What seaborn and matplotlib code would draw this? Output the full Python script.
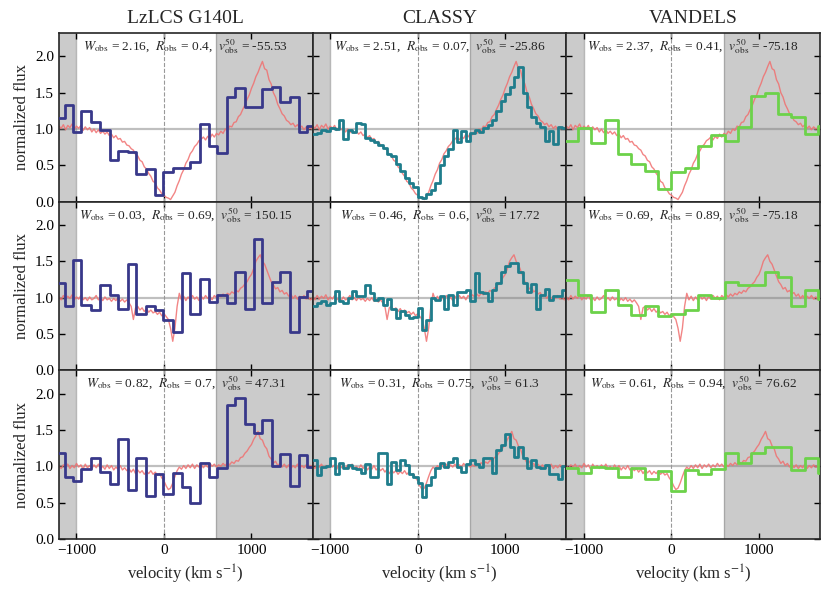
import matplotlib
matplotlib.use("Agg")
import matplotlib.pyplot as plt
import seaborn as sns

# high-resolution comparison spectrum (red), velocity in km/s
vel_hr = [-1200, -1175, -1150, -1125, -1100, -1075, -1050, -1025, -1000, -975,
          -950, -925, -900, -875, -850, -825, -800, -775, -750, -725,
          -700, -675, -650, -625, -600, -575, -550, -525, -500, -475,
          -450, -425, -400, -375, -350, -325, -300, -275, -250, -225,
          -200, -175, -150, -125, -100, -75, -50, -25, 0, 25,
          50, 75, 100, 125, 150, 175, 200, 225, 250, 275,
          300, 325, 350, 375, 400, 425, 450, 475, 500, 525,
          550, 575, 600, 625, 650, 675, 700, 725, 750, 775,
          800, 825, 850, 875, 900, 925, 950, 975, 1000, 1025,
          1050, 1075, 1100, 1125, 1150, 1175, 1200, 1225, 1250, 1275,
          1300, 1325, 1350, 1375, 1400, 1425, 1450, 1475, 1500, 1525,
          1550, 1575, 1600, 1625, 1650, 1675, 1700]

hr_row1 = [1.04, 1.01, 1.06, 0.99, 1.05, 1.02, 1.07, 1.00, 1.04, 1.01,
           1.05, 0.98, 1.03, 0.99, 1.02, 0.96, 1.00, 0.95, 0.99, 0.94,
           0.97, 0.93, 0.96, 0.91, 0.93, 0.88, 0.91, 0.86, 0.87, 0.82,
           0.83, 0.78, 0.77, 0.73, 0.71, 0.65, 0.63, 0.57, 0.55, 0.48,
           0.45, 0.39, 0.35, 0.28, 0.26, 0.19, 0.16, 0.11, 0.09, 0.06,
           0.05, 0.03, 0.08, 0.13, 0.22, 0.29, 0.38, 0.44, 0.53, 0.58,
           0.66, 0.70, 0.76, 0.79, 0.84, 0.86, 0.89, 0.85, 0.90, 0.87,
           0.93, 0.89, 0.94, 0.92, 0.97, 0.94, 1.00, 0.98, 1.04, 1.03,
           1.09, 1.10, 1.17, 1.20, 1.27, 1.33, 1.41, 1.47, 1.56, 1.63,
           1.72, 1.78, 1.86, 1.93, 1.83, 1.81, 1.68, 1.62, 1.50, 1.44,
           1.34, 1.28, 1.21, 1.18, 1.12, 1.10, 1.06, 1.08, 1.03, 1.06,
           1.01, 1.04, 0.99, 1.03, 1.00, 1.02, 0.99]

hr_row2 = [1.01, 0.97, 1.03, 0.98, 1.02, 0.99, 1.04, 0.97, 1.01, 0.98,
           1.03, 0.97, 1.00, 0.96, 1.01, 0.97, 0.99, 1.03, 0.97, 1.00,
           0.96, 1.01, 0.97, 0.99, 0.95, 0.99, 0.96, 1.00, 0.95, 0.98,
           0.94, 0.97, 0.93, 0.88, 0.70, 0.86, 0.88, 0.83, 0.86, 0.81,
           0.85, 0.80, 0.83, 0.79, 0.81, 0.77, 0.80, 0.75, 0.78, 0.74,
           0.70, 0.58, 0.40, 0.58, 0.88, 1.06, 0.97, 1.02, 0.96, 1.01,
           0.97, 1.03, 0.98, 1.01, 0.96, 1.02, 0.98, 1.03, 0.99, 1.02,
           0.97, 1.03, 1.00, 1.04, 1.01, 1.05, 1.02, 1.06, 1.04, 1.08,
           1.06, 1.10, 1.08, 1.13, 1.15, 1.19, 1.22, 1.28, 1.32, 1.40,
           1.50, 1.55, 1.59, 1.50, 1.46, 1.38, 1.30, 1.22, 1.18, 1.12,
           1.14, 1.08, 1.10, 1.05, 1.07, 1.02, 1.05, 0.99, 1.03, 0.98,
           1.02, 0.99, 1.03, 0.98, 1.01, 0.97, 1.00]

hr_row3 = [1.00, 0.97, 1.02, 0.99, 1.03, 0.97, 1.01, 0.98, 1.04, 0.99,
           1.02, 0.96, 1.03, 0.98, 1.01, 0.97, 1.02, 0.98, 1.03, 0.97,
           1.00, 0.96, 1.02, 0.97, 1.01, 0.95, 0.99, 0.96, 1.01, 0.95,
           0.98, 0.94, 0.97, 0.92, 0.96, 0.90, 0.95, 0.91, 0.94, 0.89,
           0.93, 0.90, 0.94, 0.89, 0.92, 0.88, 0.90, 0.84, 0.80, 0.73,
           0.68, 0.70, 0.77, 0.86, 0.94, 0.99, 0.96, 1.01, 0.97, 1.02,
           0.98, 1.03, 0.97, 1.02, 0.99, 1.03, 0.98, 1.02, 0.99, 1.04,
           1.00, 1.03, 0.99, 1.02, 1.00, 1.04, 1.01, 1.05, 1.02, 1.06,
           1.04, 1.08, 1.07, 1.12, 1.13, 1.18, 1.21, 1.26, 1.30, 1.37,
           1.42, 1.48, 1.38, 1.36, 1.28, 1.24, 1.14, 1.10, 1.04, 1.07,
           1.01, 1.04, 0.99, 1.03, 0.98, 1.02, 0.97, 1.01, 0.98, 1.03,
           0.97, 1.01, 0.98, 1.02, 0.99, 1.01, 0.98]

# LzLCS G140L binned spectra (bin edges in km/s)
lzlcs_edges = [-1239, -1136, -1040, -945, -831, -736, -621, -526, -412, -317,
               -202, -107, -12, 103, 205, 301, 415, 510, 605, 720,
               815, 929, 1024, 1120, 1234, 1329, 1436, 1539, 1634, 1737]
lzlcs_row1 = [1.15, 1.33, 0.96, 1.25, 1.10, 0.98, 0.57, 0.70, 0.68, 0.38,
              0.45, 0.09, 0.41, 0.47, 0.47, 0.54, 1.07, 0.77, 0.67, 1.44,
              1.57, 1.31, 1.31, 1.55, 1.58, 1.37, 1.44, 0.96, 1.04]
lzlcs_row2 = [1.20, 0.88, 1.52, 0.90, 0.83, 1.18, 1.03, 0.84, 1.47, 0.78,
              0.89, 0.83, 0.69, 0.53, 1.34, 0.78, 1.26, 0.94, 1.03, 0.92,
              1.35, 0.85, 1.81, 0.92, 1.22, 1.35, 0.53, 1.01, 1.09]
lzlcs_row3 = [1.18, 0.85, 0.80, 0.96, 1.12, 0.92, 0.76, 1.37, 0.68, 1.12,
              0.59, 0.89, 0.62, 0.91, 0.71, 0.50, 1.04, 0.85, 0.98, 1.85,
              1.94, 1.58, 1.46, 1.64, 1.01, 1.17, 0.73, 1.15, 0.99]

# CLASSY binned spectra
classy_edges = [-1200, -1150, -1100, -1050, -1000, -950, -900, -850, -800, -750,
                -700, -650, -600, -550, -500, -450, -400, -350, -300, -250,
                -200, -150, -100, -50, 0, 50, 100, 150, 200, 250,
                300, 350, 400, 450, 500, 550, 600, 650, 700, 750,
                800, 850, 900, 950, 1000, 1050, 1100, 1150, 1200, 1250,
                1300, 1350, 1400, 1450, 1500, 1550, 1600, 1650, 1700]
classy_row1 = [0.93, 0.95, 0.98, 0.97, 1.02, 1.00, 1.12, 0.86, 0.98, 0.96,
               1.08, 1.07, 0.87, 0.85, 0.82, 0.78, 0.74, 0.66, 0.63, 0.52,
               0.42, 0.33, 0.26, 0.20, 0.07, 0.05, 0.10, 0.16, 0.26, 0.50,
               0.63, 0.72, 0.98, 0.82, 0.97, 0.83, 0.95, 0.98, 0.96, 1.02,
               1.05, 1.12, 1.25, 1.38, 1.48, 1.58, 1.72, 1.85, 1.49, 1.31,
               1.17, 1.08, 1.03, 0.83, 0.97, 0.80, 1.03, 1.02]
classy_row2 = [0.88, 0.93, 0.95, 0.90, 0.93, 1.09, 0.95, 0.92, 0.99, 1.09,
               1.02, 1.02, 1.18, 1.06, 0.97, 0.99, 0.90, 0.98, 0.85, 0.72,
               0.81, 0.76, 0.72, 0.74, 0.86, 0.56, 0.69, 0.99, 0.97, 1.02,
               0.85, 1.04, 0.90, 1.08, 1.08, 1.11, 0.95, 1.34, 1.08, 1.06,
               0.95, 1.11, 1.20, 1.35, 1.43, 1.48, 1.48, 1.36, 1.20, 1.08,
               1.19, 0.85, 1.04, 1.12, 0.97, 1.02, 1.02, 1.11]
classy_row3 = [1.08, 0.88, 0.99, 1.00, 1.11, 0.90, 1.05, 0.98, 1.02, 0.98,
               0.96, 0.91, 1.03, 0.85, 0.85, 1.18, 1.18, 0.76, 1.06, 0.95,
               1.09, 1.02, 0.90, 0.85, 0.77, 0.58, 0.74, 0.85, 0.97, 1.05,
               0.99, 1.06, 1.12, 0.99, 0.92, 1.03, 1.09, 1.03, 0.99, 1.11,
               1.11, 0.91, 1.22, 1.29, 1.45, 1.27, 1.13, 1.26, 1.11, 0.98,
               1.09, 0.99, 0.97, 1.02, 0.90, 0.90, 0.83, 1.00]

# VANDELS binned spectra
vandels_edges = [-1219, -1067, -914, -762, -610, -457, -305, -152, 0, 152,
                 305, 457, 610, 762, 914, 1067, 1219, 1372, 1524, 1676, 1829]
vandels_row1 = [0.84, 1.01, 0.81, 1.12, 0.65, 0.52, 0.42, 0.175, 0.41, 0.47,
                0.76, 0.92, 0.83, 1.03, 1.46, 1.50, 1.21, 1.16, 0.93, 1.04]
vandels_row2 = [1.25, 1.03, 0.80, 1.10, 0.90, 0.76, 0.88, 0.75, 0.77, 0.83,
                1.03, 1.00, 1.21, 1.18, 1.17, 1.35, 1.29, 0.88, 1.11, 0.98]
vandels_row3 = [0.97, 0.91, 0.99, 0.97, 0.85, 0.97, 0.83, 0.94, 0.66, 0.95,
                0.90, 0.96, 1.18, 1.05, 1.18, 1.26, 1.26, 0.95, 1.12, 0.91]

# measured quantities shown in each panel
w_obs = [["2.16", "2.51", "2.37"], ["0.03", "0.46", "0.69"], ["0.82", "0.31", "0.61"]]
r_obs = [["0.4", "0.07", "0.41"], ["0.69", "0.6", "0.89"], ["0.7", "0.75", "0.94"]]
v50_obs = [["-55.53", "-25.86", "-75.18"], ["150.15", "17.72", "-75.18"],
           ["47.31", "61.3", "76.62"]]

surveys = ["LzLCS G140L", "CLASSY", "VANDELS"]
survey_colors = ["#38388a", "#1f7d8c", "#6cd24a"]
survey_edges = [lzlcs_edges, classy_edges, vandels_edges]
survey_flux = [[lzlcs_row1, lzlcs_row2, lzlcs_row3],
               [classy_row1, classy_row2, classy_row3],
               [vandels_row1, vandels_row2, vandels_row3]]
hr_flux = [hr_row1, hr_row2, hr_row3]

sns.set_theme(style="ticks")
plt.rcParams["font.family"] = ["Liberation Serif", "DejaVu Serif"]
plt.rcParams["mathtext.fontset"] = "stix"
plt.rcParams["axes.linewidth"] = 1.2

fig, axes = plt.subplots(3, 3, figsize=(8.31, 5.91), dpi=100, sharex=True, sharey=True)
fig.subplots_adjust(left=0.071, right=0.987, top=0.944, bottom=0.088, wspace=0, hspace=0)

for row in range(3):
    for col in range(3):
        ax = axes[row, col]
        # masked (gray) windows
        ax.axvspan(-1400, -1000, color="0.55", alpha=0.45, lw=0, zorder=0)
        ax.axvspan(600, 1900, color="0.55", alpha=0.45, lw=0, zorder=0)
        ax.axvline(-1000, color="0.6", lw=1.0, alpha=0.7, zorder=0.5)
        ax.axvline(600, color="0.6", lw=1.0, alpha=0.7, zorder=0.5)
        ax.axhline(1.0, color="grey", lw=1.6, alpha=0.5, zorder=1)
        ax.axvline(0, color="0.6", lw=0.8, ls="--", zorder=1)

        sns.lineplot(x=vel_hr, y=hr_flux[row], color="#f07070", alpha=0.85,
                     lw=1.0, ax=ax, zorder=2, errorbar=None)

        edges = survey_edges[col]
        vals = survey_flux[col][row]
        sns.lineplot(x=edges, y=vals + [vals[-1]], drawstyle="steps-post",
                     color=survey_colors[col], lw=2.0, ax=ax, zorder=3,
                     errorbar=None)

        txt = (r"$W_{\rm obs}$ = " + w_obs[row][col] + r",  $R_{\rm obs}$ = "
               + r_obs[row][col] + r",  $v^{50}_{\rm obs}$ = " + v50_obs[row][col])
        ax.text(0.5, 0.922, txt, transform=ax.transAxes, ha="center",
                va="center", fontsize=9.6)

        ax.set_xlim(-1200, 1700)
        ax.set_ylim(0, 2.32)
        ax.set_xticks([-1000, 0, 1000])
        ax.set_yticks([0.0, 0.5, 1.0, 1.5, 2.0])
        ax.tick_params(direction="in", top=True, right=True, length=4,
                       width=1, labelsize=11, colors="black")
        ax.set_xlabel("")
        ax.set_ylabel("")
        if row == 0:
            ax.set_title(surveys[col], fontsize=14, pad=7)
        if col == 0:
            ax.set_ylabel("normalized flux", fontsize=12)
            ax.set_yticklabels(["0.0", "0.5", "1.0", "1.5", "2.0"])
        if row == 2:
            ax.set_xlabel(r"velocity (km s$^{-1}$)", fontsize=12)

fig.savefig("out.png", dpi=100)
